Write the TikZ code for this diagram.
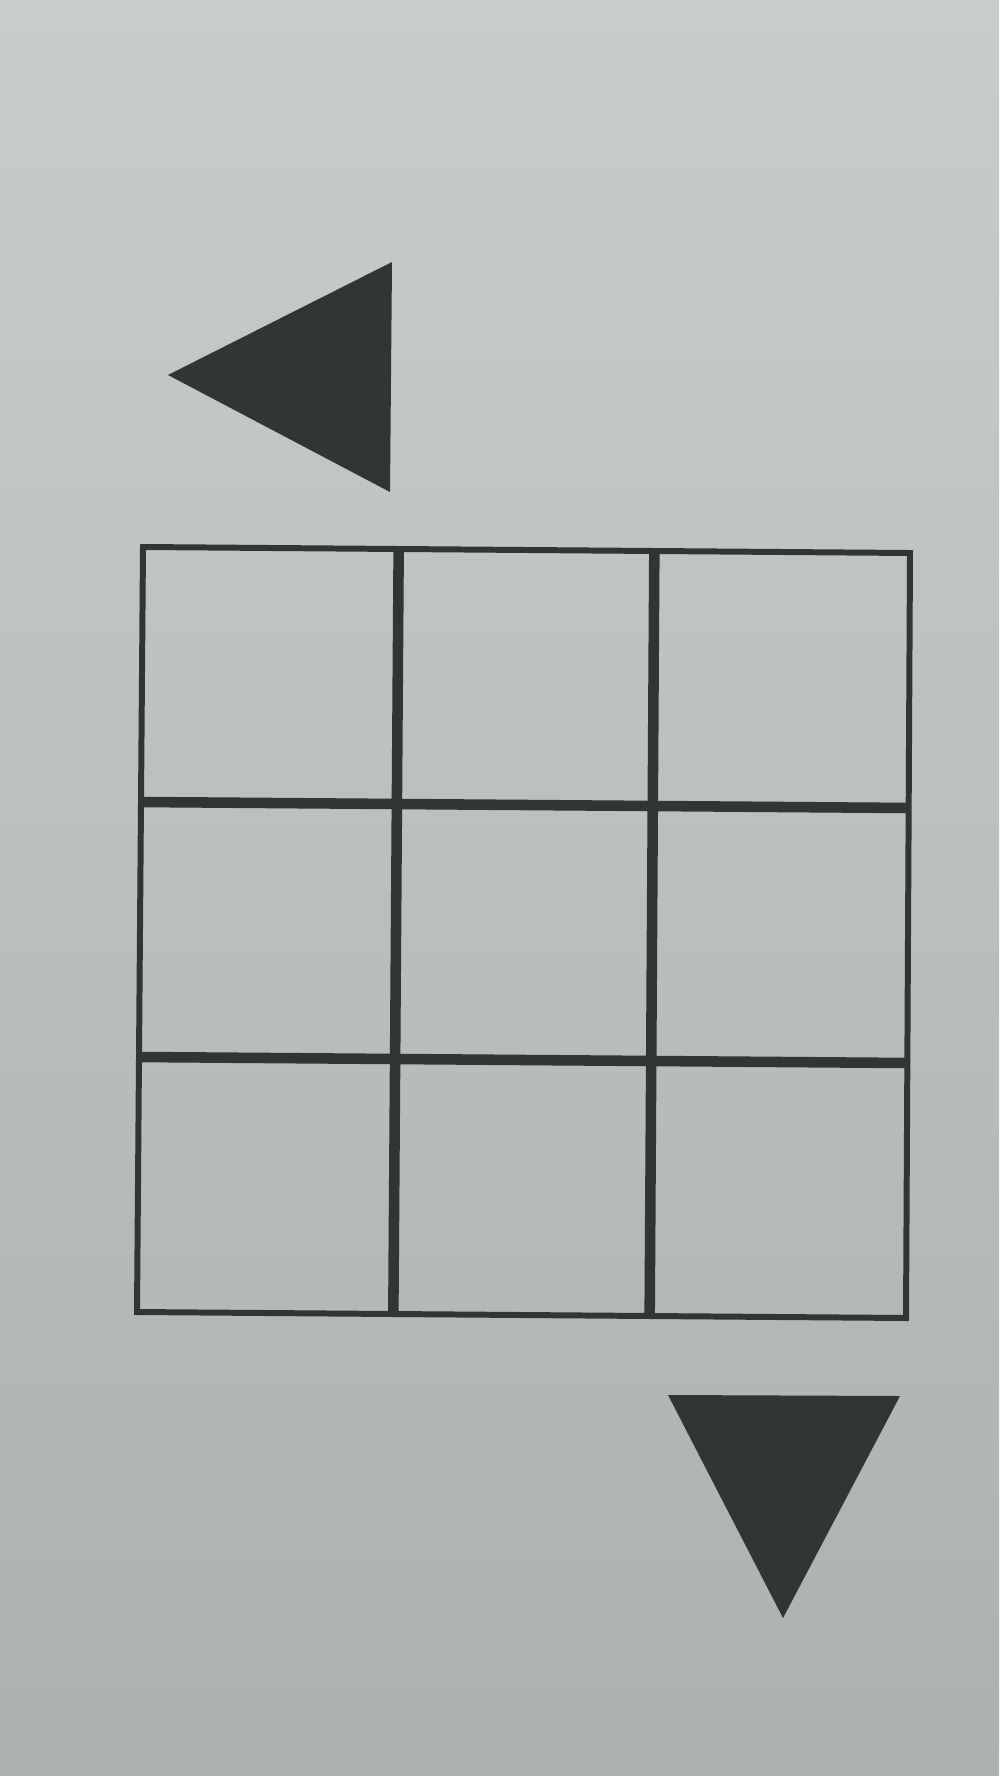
\documentclass[tikz,border=0pt]{standalone}
\usepackage{xcolor}
\usepackage{tikz}
\usetikzlibrary{calc}

\definecolor{paper}{RGB}{201,205,202}
\definecolor{papermid}{RGB}{196,200,198}
\definecolor{paperdark}{RGB}{172,176,175}
\definecolor{ink}{RGB}{48,53,53}

\begin{document}
\begin{tikzpicture}
[
	x = 0.01cm, y = -0.01cm,
	rim/.style	= {draw = ink, line width = 1.7pt, line join = miter},
	bar/.style	= {draw = ink, line width = 3pt},
	wedge/.style	= {fill = ink},
]

	\shade [top color = paper, middle color = papermid, bottom color = paperdark] (0,0) rectangle (999,1776);
	\useasboundingbox (0,0) rectangle (999,1776);

	\coordinate (gTL) at (143,547);
	\coordinate (gTR) at (910,553);
	\coordinate (gBL) at (137,1312);
	\coordinate (gBR) at (906,1318);
	%
	\coordinate (lTip) at (168,375);
	\coordinate (lTop) at (392,262);
	\coordinate (lBot) at (390,492);
	%
	\coordinate (dLeft) at (668,1395);
	\coordinate (dRight) at (900,1396);
	\coordinate (dTip) at (783,1618);

	\draw [bar] ($(gTL)!1/3!(gTR)$) -- ($(gBL)!1/3!(gBR)$);
	\draw [bar] ($(gTL)!2/3!(gTR)$) -- ($(gBL)!2/3!(gBR)$);
	\draw [bar] ($(gTL)!1/3!(gBL)$) -- ($(gTR)!1/3!(gBR)$);
	\draw [bar] ($(gTL)!2/3!(gBL)$) -- ($(gTR)!2/3!(gBR)$);
	\draw [rim] (gTL) -- (gTR) -- (gBR) -- (gBL) -- cycle;

	\fill [wedge] (lTip) -- (lTop) -- (lBot) -- cycle;
	\fill [wedge] (dLeft) -- (dRight) -- (dTip) -- cycle;

\end{tikzpicture}
\end{document}
